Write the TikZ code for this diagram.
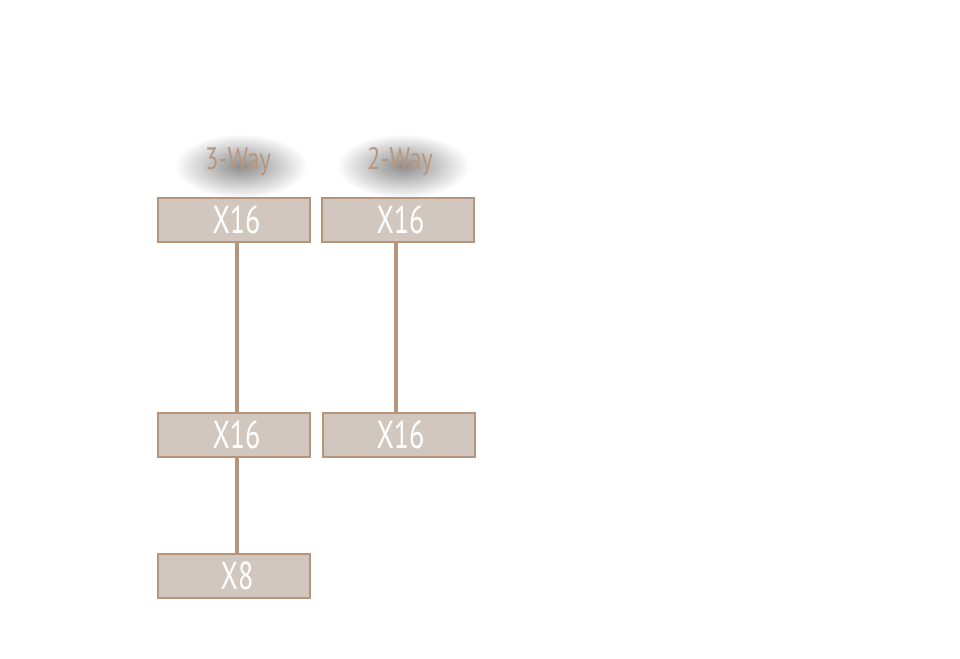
\documentclass[tikz,border=0pt]{standalone}
\usetikzlibrary{fadings}
\usepackage{fontspec}
\setmainfont{PT Sans}
\newfontfamily\boxfont[FakeStretch=0.72]{PT Sans}
\newfontfamily\labfont[FakeStretch=0.8]{PT Sans}
\definecolor{boxfill}{RGB}{210,199,190}
\definecolor{boxline}{RGB}{183,149,123}
\definecolor{labtext}{RGB}{184,150,126}
\tikzfading[name=softblob, inner color=transparent!0, outer color=transparent!100]
\tikzset{
  unitbox/.style={draw=boxline, line width=2pt, fill=boxfill, minimum width=152pt, minimum height=44pt, inner sep=0pt, text=white, font=\boxfont\fontsize{39}{39}\selectfont},
  link/.style={draw=boxline, line width=3.2pt},
  waylab/.style={text=labtext, font=\labfont\fontsize{31}{31}\selectfont, inner sep=0pt},
  blob/.style={fill=black, opacity=0.45, path fading=softblob}
}
\begin{document}
\begin{tikzpicture}[x=1pt,y=-1pt]
\useasboundingbox (0,0) rectangle (960,658);
\fill[blob] (241,166) ellipse (66 and 32);
\fill[blob] (403,166) ellipse (66 and 32);
\node[waylab] (l3) at (238,162) {3-Way};
\node[waylab] (l2) at (400,162) {2-Way};
\node[unitbox] (a1) at (234,220) {\hspace*{5pt}X16};
\node[unitbox] (b1) at (398,220) {\hspace*{5pt}X16};
\node[unitbox] (a2) at (234,435) {\hspace*{5pt}X16};
\node[unitbox] (b2) at (399,435) {\hspace*{3pt}X16};
\node[unitbox] (a3) at (234,576) {\hspace*{6pt}X8};
\draw[link] ([xshift=3pt]a1.south) -- ([xshift=3pt]a2.north);
\draw[link] ([xshift=3pt]a2.south) -- ([xshift=3pt]a3.north);
\draw[link] ([xshift=-2pt]b1.south) -- ([xshift=-3pt]b2.north);
\end{tikzpicture}
\end{document}
